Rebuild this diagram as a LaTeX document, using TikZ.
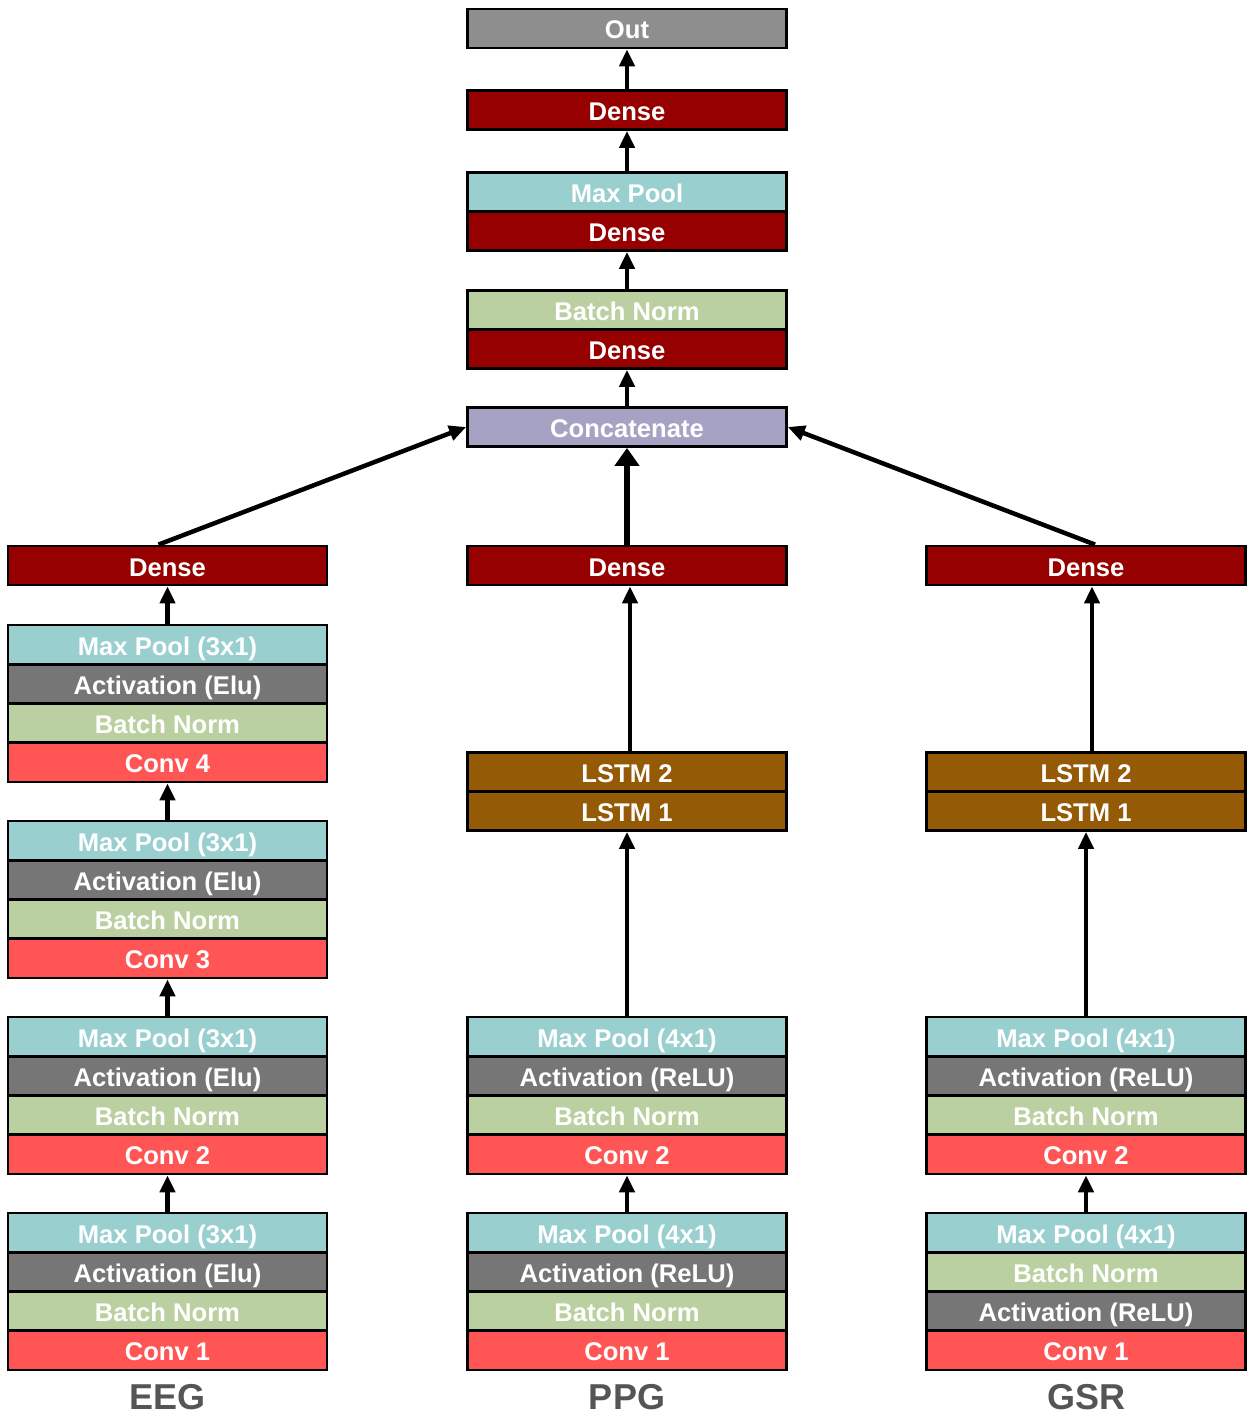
\documentclass[tikz,border=0pt]{standalone}
\usepackage{fontspec}
\setmainfont{Liberation Sans}
\usetikzlibrary{arrows.meta}
\definecolor{cdense}{HTML}{970000}
\definecolor{cpool}{HTML}{9ACFCF}
\definecolor{cact}{HTML}{767676}
\definecolor{cbn}{HTML}{BBD0A0}
\definecolor{cconv}{HTML}{FF5555}
\definecolor{clstm}{HTML}{955A05}
\definecolor{ccat}{HTML}{A6A2C4}
\definecolor{cout}{HTML}{8E8E8E}
\definecolor{clabel}{HTML}{555555}
\tikzset{
  layer/.style={draw=black, line width=2.6pt, minimum width=319pt, minimum height=39.2pt,
    inner sep=0pt, text height=23pt, text depth=2pt, text=white,
    font=\bfseries\fontsize{25.6}{25.6}\selectfont},
  dense/.style={layer, fill=cdense},
  pool/.style={layer, fill=cpool},
  act/.style={layer, fill=cact},
  bn/.style={layer, fill=cbn},
  conv/.style={layer, fill=cconv},
  lstm/.style={layer, fill=clstm},
  cat/.style={layer, fill=ccat},
  outb/.style={layer, fill=cout},
  collabel/.style={text=clabel, font=\bfseries\fontsize{36}{36}\selectfont, inner sep=0pt},
  arr/.style={line width=4.5pt, -{Triangle[width=15pt,length=17pt]}},
  bigarr/.style={line width=6.5pt, -{Triangle[width=24pt,length=18pt]}}
}
\begin{document}
\begin{tikzpicture}[x=1pt,y=-1pt]
\useasboundingbox (0,0) rectangle (1256,1420);
% top column
\node[outb] (out) at (627,28.5) {Out};
\node[dense] (d3) at (627,110) {Dense};
\node[pool] (mp) at (627,192) {Max Pool};
\node[dense] (d2) at (627,231) {Dense};
\node[bn] (bnt) at (627,310) {Batch Norm};
\node[dense] (d1) at (627,349) {Dense};
\node[cat] (cat) at (627,427) {Concatenate};
% dense row
\node[dense] (eegd) at (167.5,565.5) {Dense};
\node[dense] (ppgd) at (627,565.5) {Dense};
\node[dense] (gsrd) at (1086,565.5) {Dense};
% EEG stacks
\node[pool] (e4p) at (167.5,644.6) {Max Pool (3x1)};
\node[act]  (e4a) at (167.5,683.9) {Activation (Elu)};
\node[bn]   (e4b) at (167.5,723.1) {Batch Norm};
\node[conv] (e4c) at (167.5,762.4) {Conv 4};
\node[pool] (e3p) at (167.5,840.6) {Max Pool (3x1)};
\node[act]  (e3a) at (167.5,879.9) {Activation (Elu)};
\node[bn]   (e3b) at (167.5,919.1) {Batch Norm};
\node[conv] (e3c) at (167.5,958.4) {Conv 3};
\node[pool] (e2p) at (167.5,1036.6) {Max Pool (3x1)};
\node[act]  (e2a) at (167.5,1075.9) {Activation (Elu)};
\node[bn]   (e2b) at (167.5,1115.1) {Batch Norm};
\node[conv] (e2c) at (167.5,1154.4) {Conv 2};
\node[pool] (e1p) at (167.5,1232.6) {Max Pool (3x1)};
\node[act]  (e1a) at (167.5,1271.9) {Activation (Elu)};
\node[bn]   (e1b) at (167.5,1311.1) {Batch Norm};
\node[conv] (e1c) at (167.5,1350.4) {Conv 1};
% PPG
\node[lstm] (pl2) at (627,772) {LSTM 2};
\node[lstm] (pl1) at (627,811) {LSTM 1};
\node[pool] (p2p) at (627,1036.6) {Max Pool (4x1)};
\node[act]  (p2a) at (627,1075.9) {Activation (ReLU)};
\node[bn]   (p2b) at (627,1115.1) {Batch Norm};
\node[conv] (p2c) at (627,1154.4) {Conv 2};
\node[pool] (p1p) at (627,1232.6) {Max Pool (4x1)};
\node[act]  (p1a) at (627,1271.9) {Activation (ReLU)};
\node[bn]   (p1b) at (627,1311.1) {Batch Norm};
\node[conv] (p1c) at (627,1350.4) {Conv 1};
% GSR
\node[lstm] (gl2) at (1086,772) {LSTM 2};
\node[lstm] (gl1) at (1086,811) {LSTM 1};
\node[pool] (g2p) at (1086,1036.6) {Max Pool (4x1)};
\node[act]  (g2a) at (1086,1075.9) {Activation (ReLU)};
\node[bn]   (g2b) at (1086,1115.1) {Batch Norm};
\node[conv] (g2c) at (1086,1154.4) {Conv 2};
\node[pool] (g1p) at (1086,1232.6) {Max Pool (4x1)};
\node[bn]   (g1b) at (1086,1271.9) {Batch Norm};
\node[act]  (g1a) at (1086,1311.1) {Activation (ReLU)};
\node[conv] (g1c) at (1086,1350.4) {Conv 1};
% labels
\node[collabel] (leeg) at (167.5,1397) {EEG};
\node[collabel] (lppg) at (627,1397) {PPG};
\node[collabel] (lgsr) at (1086,1397) {GSR};
% arrows top
\draw[arr] (d3.north) -- (out.south);
\draw[arr] (mp.north) -- (d3.south);
\draw[arr] (bnt.north) -- (d2.south);
\draw[arr] (cat.north) -- (d1.south);
\draw[bigarr] (ppgd.north) -- (cat.south);
\draw[arr] ([xshift=-9pt]eegd.north) -- (cat.west);
\draw[arr] ([xshift=9pt]gsrd.north) -- (cat.east);
% EEG arrows
\draw[arr] (e4p.north) -- (eegd.south);
\draw[arr] (e3p.north) -- (e4c.south);
\draw[arr] (e2p.north) -- (e3c.south);
\draw[arr] (e1p.north) -- (e2c.south);
% PPG arrows
\draw[arr] ([xshift=3pt]pl2.north) -- ([xshift=3pt]ppgd.south);
\draw[arr] (p2p.north) -- (pl1.south);
\draw[arr] (p1p.north) -- (p2c.south);
% GSR arrows
\draw[arr] ([xshift=6pt]gl2.north) -- ([xshift=6pt]gsrd.south);
\draw[arr] (g2p.north) -- (gl1.south);
\draw[arr] (g1p.north) -- (g2c.south);
\end{tikzpicture}
\end{document}
